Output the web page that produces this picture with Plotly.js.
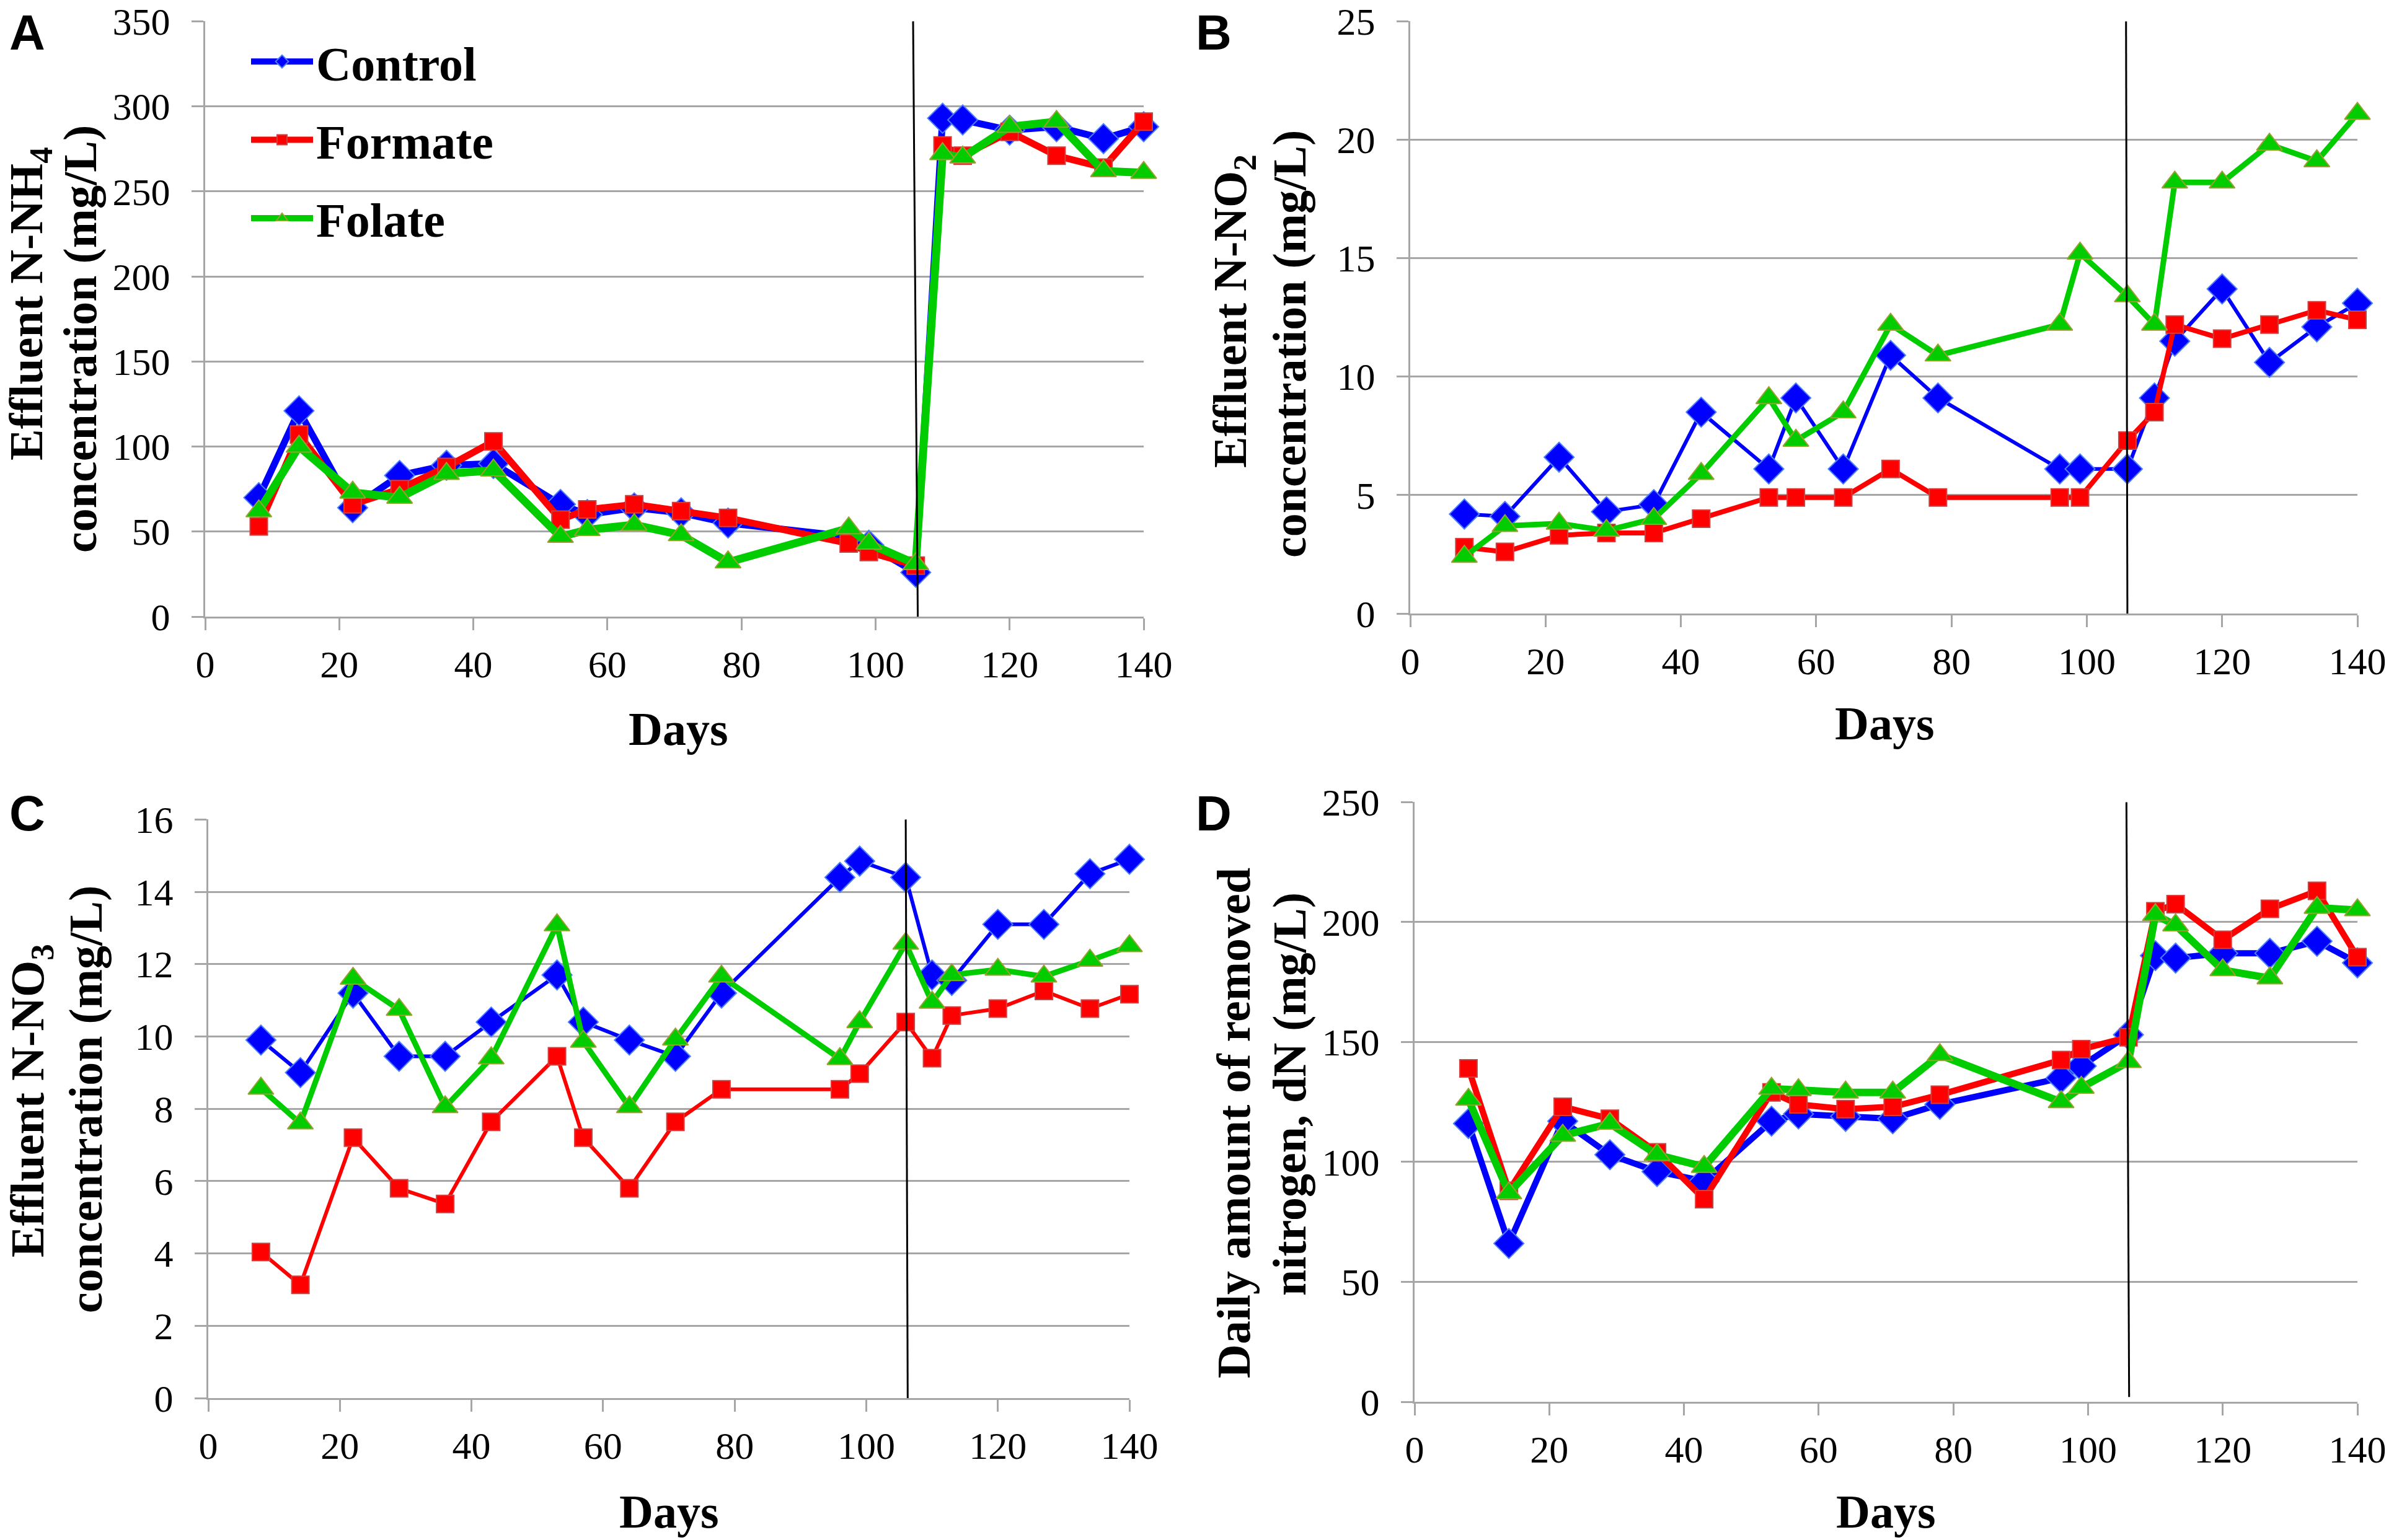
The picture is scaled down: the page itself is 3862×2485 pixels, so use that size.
<!DOCTYPE html>
<html>
<head>
<meta charset="utf-8">
<script src="https://cdn.plot.ly/plotly-3.0.1.min.js"></script>
<style>html,body{margin:0;padding:0;background:#fff;}#chart{width:3862px;height:2485px;}</style>
</head>
<body>
<div id="chart"></div>
<script>
// ---------- data ----------
const days = [8, 14, 22, 29, 36, 43, 53, 57, 64, 71, 78, 96, 99, 106, 110, 113, 120, 127, 134, 140];
const seriesNames = ["Control", "Formate", "Folate"];
const xTicks = [0, 20, 40, 60, 80, 100, 120, 140];
const yTicksA = [0, 50, 100, 150, 200, 250, 300, 350];
const yTicksB = [0, 5, 10, 15, 20, 25];
const yTicksC = [0, 2, 4, 6, 8, 10, 12, 14, 16];
const yTicksD = [0, 50, 100, 150, 200, 250];

// A: effluent N-NH4 (mg/L)
const nh4Control = [70, 121, 64, 83, 89, 90, 66, 60, 64, 61, 55, 47, 42, 26, 293, 292, 286, 288, 281, 288];
const nh4Formate = [53, 107, 66, 75, 88, 103, 57, 63, 66, 62, 58, 43, 38, 30, 277, 271, 285, 271, 264, 291];
const nh4Folate  = [62, 100, 73, 70, 84, 86, 47, 51, 54, 48, 32, 52, 43, 31, 272, 270, 288, 291, 262, 261];

// B: effluent N-NO2 (mg/L)
const no2Control = [4.2, 4.1, 6.6, 4.3, 4.6, 8.5, 6.1, 9.1, 6.1, 10.9, 9.1, 6.1, 6.1, 6.1, 9.1, 11.5, 13.7, 10.6, 12.1, 13.1];
const no2Formate = [2.8, 2.6, 3.3, 3.4, 3.4, 4.0, 4.9, 4.9, 4.9, 6.1, 4.9, 4.9, 4.9, 7.3, 8.5, 12.2, 11.6, 12.2, 12.8, 12.4];
const no2Folate  = [2.4, 3.7, 3.8, 3.5, 4.0, 5.9, 9.1, 7.3, 8.5, 12.2, 10.9, 12.2, 15.2, 13.4, 12.2, 18.2, 18.2, 19.8, 19.1, 21.1];

// C: effluent N-NO3 (mg/L)
const no3Control = [9.9, 9.0, 11.2, 9.45, 9.45, 10.4, 11.7, 10.4, 9.9, 9.45, 11.2, 14.4, 14.85, 14.4, 11.7, 11.55, 13.1, 13.1, 14.5, 14.9];
const no3Formate = [4.04, 3.13, 7.2, 5.8, 5.37, 7.64, 9.45, 7.2, 5.8, 7.64, 8.54, 8.54, 8.97, 10.4, 9.4, 10.58, 10.77, 11.26, 10.77, 11.17];
const no3Folate  = [8.56, 7.6, 11.6, 10.74, 8.05, 9.4, 13.08, 9.86, 8.05, 9.92, 11.66, 9.38, 10.4, 12.57, 10.94, 11.7, 11.85, 11.66, 12.1, 12.5];

// D: daily amount of removed nitrogen, dN (mg/L)
const dnControl = [116, 66, 117, 103, 96, 92, 117, 120, 119, 118, 124, 135, 140, 153, 186, 185, 187, 187, 192, 183];
const dnFormate = [139, 88, 123, 118, 104, 84.5, 129, 124, 122, 123, 128, 142.5, 147, 152, 204.5, 207.5, 192.6, 205.5, 213, 185.4];
const dnFolate  = [126, 87, 111, 116, 103, 98, 130.6, 130, 129, 129, 144.6, 125, 131, 141.7, 203, 198.7, 180, 176.6, 206, 205];

// ---------- styling ----------
const W = 3862, H = 2485;
const px = v => v / W;
const py = v => 1 - v / H;

const colors = ["#0000ff", "#ff0000", "#00cc00"];
const edge = ["#4d7dff", "#d04040", "#9aa030"];
const symbols = ["diamond", "square", "triangle-up"];
const msize = [37, 28, 36];

const panels = [
  {ax: "", ys: [nh4Control, nh4Formate, nh4Folate], yt: yTicksA, lw: [11, 11, 13],
   dom: {x: [331, 1845], y: [34, 995]}, vline: [106.3, 105.6]},
  {ax: "2", ys: [no2Control, no2Formate, no2Folate], yt: yTicksB, lw: [6, 8, 9],
   dom: {x: [2275, 3803], y: [34, 990]}, vline: [106.0, 105.8]},
  {ax: "3", ys: [no3Control, no3Formate, no3Folate], yt: yTicksC, lw: [6, 6, 9],
   dom: {x: [336, 1822], y: [1322, 2256]}, vline: [106.3, 106.0]},
  {ax: "4", ys: [dnControl, dnFormate, dnFolate], yt: yTicksD, lw: [10, 10, 12],
   dom: {x: [2282, 3803], y: [1294, 2262]}, vline: [106.1, 105.7]}
];

const gridCol = "#a6a6a6";
const tickFont = {family: "Liberation Serif, Times New Roman, serif", size: 62, color: "#000"};
const titleFont = {family: "Liberation Serif, Times New Roman, serif", size: 76, color: "#000", weight: "bold"};

const traces = [];
const layout = {
  width: W, height: H,
  margin: {l: 0, r: 0, t: 0, b: 0},
  paper_bgcolor: "#fff", plot_bgcolor: "#fff",
  showlegend: true,
  legend: {
    x: px(400), y: py(42), xanchor: "left", yanchor: "top",
    bgcolor: "rgba(0,0,0,0)", traceorder: "grouped", tracegroupgap: 22,
    font: {family: "Liberation Serif, Times New Roman, serif", size: 78, color: "#000", weight: "bold"},
    itemwidth: 100
  },
  shapes: [], annotations: []
};

panels.forEach((p, pi) => {
  const xa = "xaxis" + p.ax, ya = "yaxis" + p.ax;
  const ymax = p.yt[p.yt.length - 1];
  layout[xa] = {
    domain: [px(p.dom.x[0]), px(p.dom.x[1])], anchor: "y" + p.ax,
    range: [0, 140.0001], tickmode: "array", tickvals: xTicks, ticktext: xTicks.map(String),
    showgrid: false, zeroline: false, showline: true, linecolor: gridCol, linewidth: 3,
    ticks: "outside", ticklen: 19, tickwidth: 3, tickcolor: gridCol,
    tickfont: tickFont, ticklabelstandoff: 2, fixedrange: true
  };
  layout[ya] = {
    domain: [py(p.dom.y[1]), py(p.dom.y[0])], anchor: "x" + p.ax,
    range: [0, ymax * 1.0004], tickmode: "array", tickvals: p.yt, ticktext: p.yt.map(String),
    showgrid: true, gridcolor: gridCol, gridwidth: 3,
    zeroline: false, showline: true, linecolor: gridCol, linewidth: 3,
    ticks: "outside", ticklen: 19, tickwidth: 3, tickcolor: gridCol,
    tickfont: tickFont, ticklabelstandoff: 22, fixedrange: true
  };
  p.ys.forEach((vals, si) => {
    traces.push({
      type: "scatter", mode: "lines+markers",
      x: days, y: vals, name: seriesNames[si],
      xaxis: "x" + p.ax, yaxis: "y" + p.ax,
      legendgroup: seriesNames[si], showlegend: pi === 0,
      line: {color: colors[si], width: p.lw[si]},
      marker: {symbol: symbols[si], size: msize[si], color: colors[si], line: {color: edge[si], width: 2}},
      cliponaxis: false
    });
  });
  layout.shapes.push({
    type: "line", xref: "x" + p.ax, yref: "y" + p.ax,
    x0: p.vline[0], y0: pi === 3 ? 2 : 0, x1: p.vline[1], y1: ymax,
    line: {color: "#000", width: 3}, layer: "above"
  });
});

// Panel letters
const letters = [["A", 44, 52], ["B", 1958, 52], ["C", 44, 1312], ["D", 1958, 1312]];
letters.forEach(l => layout.annotations.push({
  text: l[0], xref: "paper", yref: "paper", x: px(l[1]), y: py(l[2]),
  xanchor: "center", yanchor: "middle", showarrow: false,
  font: {family: "Liberation Sans, Arial, sans-serif", size: 80, color: "#000", weight: "bold"}
}));

// Axis titles
const xTitles = [[1094, 1176], [3040, 1167], [1079, 2439], [3042, 2439]];
xTitles.forEach(t => layout.annotations.push({
  text: "Days", xref: "paper", yref: "paper", x: px(t[0]), y: py(t[1]),
  xanchor: "center", yanchor: "middle", showarrow: false, font: Object.assign({}, titleFont, {size: 76})
}));

const yTitles = [
  ["Effluent N-NH<sub>4</sub>", 48, 490], ["concentration (mg/L)", 130, 547],
  ["Effluent N-NO<sub>2</sub>", 1990, 502], ["concentration (mg/L)", 2080, 555],
  ["Effluent N-NO<sub>3</sub>", 50, 1776], ["concentration (mg/L)", 138, 1774],
  ["Daily amount of removed", 1990, 1812], ["nitrogen, dN (mg/L)", 2080, 1766]
];
yTitles.forEach(t => layout.annotations.push({
  text: t[0], xref: "paper", yref: "paper", x: px(t[1]), y: py(t[2]),
  xanchor: "center", yanchor: "middle", textangle: -90, showarrow: false, font: titleFont
}));

Plotly.newPlot("chart", traces, layout, {staticPlot: true, displayModeBar: false});
</script>
</body>
</html>
